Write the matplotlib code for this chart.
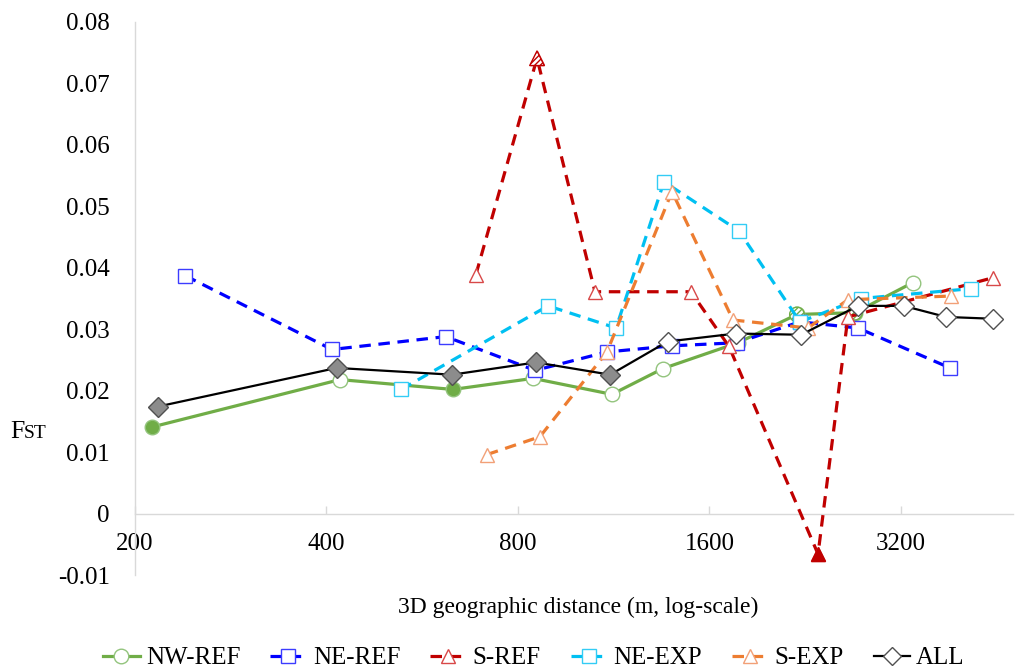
import matplotlib
matplotlib.use("Agg")
import matplotlib.pyplot as plt
from matplotlib.lines import Line2D

plt.rcParams['font.family'] = ['Liberation Serif', 'DejaVu Serif']

# ---------------- data ----------------
nw_x = [213, 420, 632, 845, 1124, 1352, 1774, 2196, 2709, 3342]
nw_y = [0.0141, 0.0218, 0.0202, 0.0220, 0.0194, 0.0236, 0.0278, 0.0324, 0.0327, 0.0376]
nw_filled = [0, 2]
nw_hatched = [7, 8]

ner_x = [240, 408, 616, 851, 1104, 1397, 1765, 2220, 2738, 3822]
ner_y = [0.0387, 0.0267, 0.0288, 0.0233, 0.0263, 0.0273, 0.0278, 0.0312, 0.0302, 0.0237]

sr_x = [687, 857, 1057, 1496, 1717, 2370, 2641, 4470]
sr_y = [0.0389, 0.0741, 0.0361, 0.0361, 0.0272, -0.0066, 0.0320, 0.0384]
sr_filled = [5]
sr_hatched = [1]

nee_x = [524, 892, 1141, 1357, 1780, 2220, 2770, 4122]
nee_y = [0.0202, 0.0338, 0.0302, 0.0540, 0.0460, 0.0312, 0.0350, 0.0366]

se_x = [715, 866, 1104, 1397, 1742, 2285, 2641, 3835]
se_y = [0.0096, 0.0125, 0.0263, 0.0524, 0.0315, 0.0302, 0.0348, 0.0354]

all_x = [217, 415, 630, 854, 1117, 1375, 1761, 2230, 2738, 3230, 3766, 4470]
all_y = [0.0174, 0.0237, 0.0226, 0.0246, 0.0226, 0.0280, 0.0293, 0.0291, 0.0338, 0.0338, 0.0320, 0.0317]
all_gray = [0, 1, 2, 3, 4]

x_ticks = [200, 400, 800, 1600, 3200]
y_ticks = [-0.01, 0, 0.01, 0.02, 0.03, 0.04, 0.05, 0.06, 0.07, 0.08]
y_tick_labels = ['-0.01', '0', '0.01', '0.02', '0.03', '0.04', '0.05', '0.06', '0.07', '0.08']

# ---------------- figure ----------------
W, H = 1016, 671
fig = plt.figure(figsize=(W / 100, H / 100), dpi=100)
ax = fig.add_axes([135 / W, 1 - 575 / H, (1013 - 135) / W, (575 - 22) / H])
ax.set_xscale('log', base=2)
ax.set_xlim(200, 4800)
ax.set_ylim(-0.01, 0.08)

GREEN, GREEN_E = '#70AD47', '#93C47D'
BLUE, BLUE_E = '#0000FF', '#3C3CFF'
RED, RED_E = '#C00000', '#D84848'
CYAN, CYAN_E = '#00C0F2', '#33CCF5'
ORANGE, ORANGE_E = '#ED7D31', '#F2A077'

dash = (3.6, 2.4)
ms = 10.5


def series(x, y, color, ls, lw, marker, edge, faces, hatched=(), hatch_col=None, z=2):
    ax.plot(x, y, color=color, lw=lw, ls=ls, zorder=z,
            **({'dashes': dash} if ls == '--' else {}))
    for i, (xi, yi) in enumerate(zip(x, y)):
        fc = faces[i]
        ax.plot([xi], [yi], ls='none', marker=marker, ms=ms, mfc=fc, mec=edge,
                mew=1.0, zorder=z + 0.1)
        if i in hatched:
            ax.scatter([xi], [yi], s=ms ** 2, marker=marker, facecolor='white',
                       edgecolor=hatch_col, hatch='//////', linewidth=1.0, zorder=z + 0.2)


nw_faces = [GREEN if i in nw_filled else 'white' for i in range(len(nw_x))]
series(nw_x, nw_y, GREEN, '-', 2.3, 'o', GREEN_E, nw_faces, nw_hatched, GREEN, z=2)
series(ner_x, ner_y, BLUE, '--', 2.3, 's', BLUE_E, ['white'] * len(ner_x), z=3)
sr_faces = [RED if i in sr_filled else 'white' for i in range(len(sr_x))]
series(sr_x, sr_y, RED, '--', 2.3, '^', RED_E, sr_faces, sr_hatched, RED, z=4)
ax.plot([sr_x[i] for i in sr_filled], [sr_y[i] for i in sr_filled], ls='none',
        marker='^', ms=ms, mfc=RED, mec=RED, zorder=4.3)
series(nee_x, nee_y, CYAN, '--', 2.3, 's', CYAN_E, ['white'] * len(nee_x), z=5)
series(se_x, se_y, ORANGE, '--', 2.3, '^', ORANGE_E, ['white'] * len(se_x), z=6)
all_faces = ['#8C8C8C' if i in all_gray else 'white' for i in range(len(all_x))]
series(all_x, all_y, 'black', '-', 1.6, 'D', '#505050', all_faces, z=7)

# ---------------- axes styling ----------------
for s in ['top', 'right']:
    ax.spines[s].set_visible(False)
ax.spines['bottom'].set_position(('data', 0))
ax.spines['bottom'].set_color('#D9D9D9')
ax.spines['left'].set_color('#D9D9D9')
ax.spines['bottom'].set_linewidth(1.0)
ax.spines['left'].set_linewidth(1.0)

ax.set_xticks(x_ticks)
ax.set_xticklabels([str(v) for v in x_ticks])
ax.xaxis.set_minor_locator(matplotlib.ticker.NullLocator())
ax.tick_params(axis='x', direction='in', length=6, width=1, color='#D9D9D9',
               labelsize=18, pad=14)
ax.set_yticks(y_ticks)
ax.set_yticklabels(y_tick_labels)
ax.tick_params(axis='y', length=0, labelsize=18, pad=18)

# axis titles
fig.text(578 / W, 1 - 607 / H, '3D geographic distance (m, log-scale)',
         ha='center', va='center', fontsize=17)
fig.text(10 / W, 1 - 438 / H, 'F', ha='left', va='baseline', fontsize=18.5)
fig.text(24 / W, 1 - 438 / H, 'ST', ha='left', va='baseline', fontsize=14)

# ---------------- legend ----------------
handles = [
    Line2D([], [], color=GREEN, lw=2.3, marker='o', ms=ms, mfc='white', mec=GREEN_E),
    Line2D([], [], color=BLUE, lw=2.3, ls='--', dashes=dash, marker='s', ms=ms, mfc='white', mec=BLUE_E),
    Line2D([], [], color=RED, lw=2.3, ls='--', dashes=dash, marker='^', ms=ms, mfc='white', mec=RED_E),
    Line2D([], [], color=CYAN, lw=2.3, ls='--', dashes=dash, marker='s', ms=ms, mfc='white', mec=CYAN_E),
    Line2D([], [], color=ORANGE, lw=2.3, ls='--', dashes=dash, marker='^', ms=ms, mfc='white', mec=ORANGE_E),
    Line2D([], [], color='black', lw=1.6, marker='D', ms=ms * 0.9, mfc='white', mec='#505050'),
]
labels = ['NW-REF', 'NE-REF', 'S-REF', 'NE-EXP', 'S-EXP', 'ALL']
fig.legend(handles, labels, loc='center', bbox_to_anchor=(534 / W, 1 - 658 / H),
           ncol=6, frameon=False, fontsize=18, handlelength=1.45, handletextpad=0.25,
           columnspacing=1.2, borderpad=0, borderaxespad=0)

fig.savefig('out.png', dpi=100)
